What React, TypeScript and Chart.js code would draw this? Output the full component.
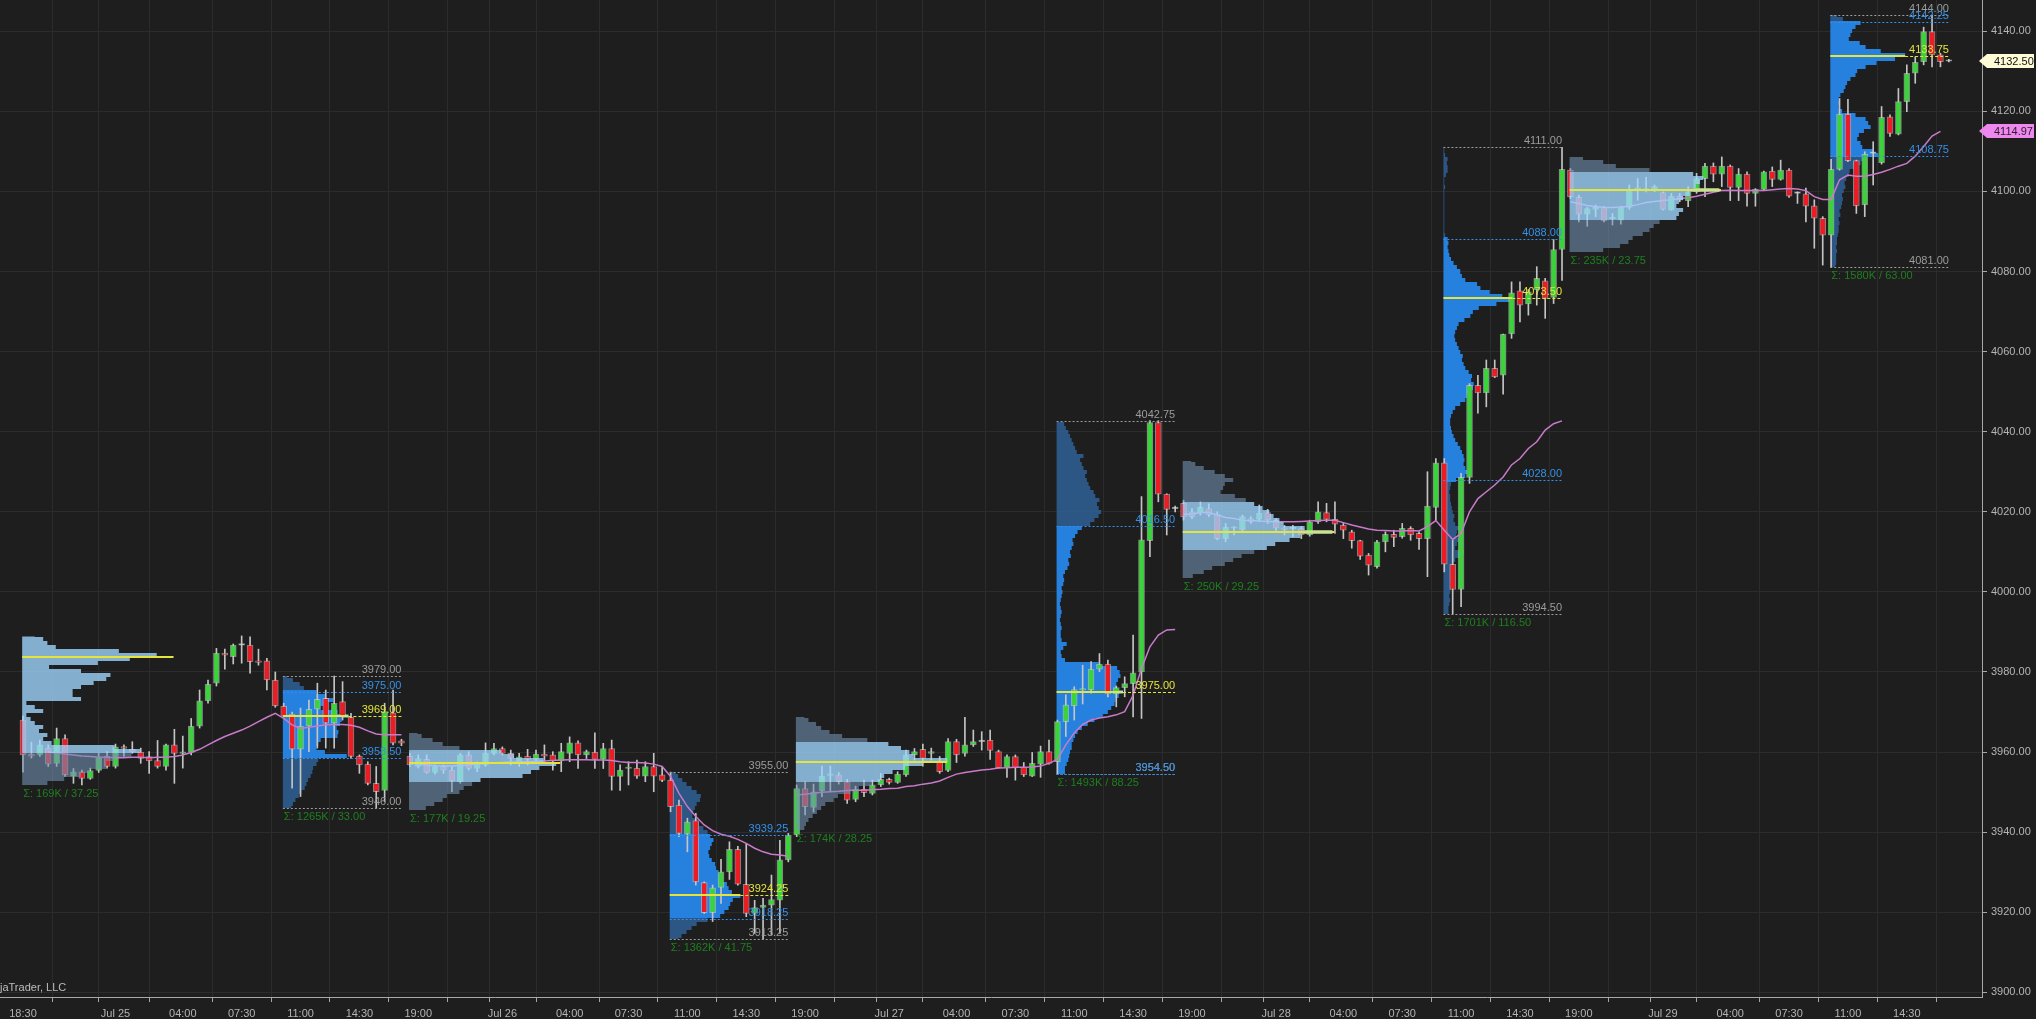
import { useEffect, useRef } from 'react';
import { Chart, registerables } from 'chart.js';

Chart.register(...registerables);

// ---------- candle data (30-minute bars, ES futures) ----------
const opens = [
  3968, 3959.5, 3959.3, 3961, 3957.2, 3963.4, 3954, 3955.1, 3953.4, 3955.4,
  3959, 3956.4, 3961.4, 3960.7, 3960, 3958.9, 3957.9, 3956.4, 3961.8, 3959.7,
  3959.9, 3966.5, 3972.8, 3977.2, 3984.7, 3983.8, 3986.7, 3986.7, 3982.7, 3982.8,
  3978, 3971.5, 3969.5, 3960.7, 3966.5, 3970.7, 3973.4, 3967.2, 3972.6, 3968.7,
  3959, 3957, 3952.2, 3950.4, 3969.8, 3962.8, 3959, 3956.4, 3958.2, 3954.9,
  3956.4, 3955.5, 3952.6, 3959.3, 3955.9, 3956.8, 3959.7, 3960.9, 3959.7, 3957.3,
  3959, 3958.2, 3959.5, 3959.3, 3957.8, 3959.7, 3962.3, 3959.3, 3960, 3958.2,
  3960.9, 3953.9, 3955.9, 3956, 3954, 3956.4, 3954.3, 3953, 3946.8, 3939.5,
  3942.9, 3927.4, 3919.9, 3926.2, 3930.1, 3935.7, 3927, 3919.7, 3921.2, 3921.8,
  3923, 3933.1, 3939.3, 3950.9, 3946.2, 3950.3, 3954.2, 3954.3, 3952.6, 3948.2,
  3950.7, 3949.7, 3951.8, 3953.2, 3952.4, 3954.3, 3959.3, 3960.7, 3959.7, 3957.6,
  3955.4, 3962.6, 3959.7, 3961.8, 3962.6, 3963, 3960.1, 3956.1, 3958.9, 3956.2,
  3954, 3957, 3960.1, 3957.6, 3967.6, 3971.5, 3975.5, 3975.5, 3980.7, 3982,
  3974.5, 3976.1, 3977.1, 3980, 4012.8, 4042.3, 4024.4, 4020.8, 4022.1, 4020,
  4019.8, 4020.8, 4019.4, 4013.3, 4015.9, 4015.5, 4018.3, 4018.1, 4019.8, 4017.9,
  4016, 4015.8, 4015.8, 4014.2, 4017.5, 4019.8, 4018.1, 4016.7, 4015, 4012.8,
  4009.2, 4006.3, 4012.5, 4014.4, 4013.8, 4015.9, 4014.6, 4013.3, 4021.1, 4032.2,
  4006.9, 4000.6, 4028.6, 4051.6, 4049.7, 4055.8, 4054.1, 4064.4, 4075.2, 4071.9,
  4075.4, 4077.7, 4073.5, 4085.5, 4105.3, 4098.5, 4094.3, 4095.5, 4096, 4093.1,
  4092.8, 4096, 4100.5, 4100.3, 4100.3, 4099.7, 4095.3, 4098.8, 4097.6, 4099.9,
  4103.2, 4106.3, 4104.3, 4106.3, 4101, 4104.3, 4099.5, 4100.5, 4105.1, 4103,
  4105.3, 4099.5, 4099.4, 4096.4, 4093.3, 4089.1, 4105.5, 4119.3, 4107.7, 4096.6,
  4109.5, 4107.2, 4118.6, 4114.3, 4122.4, 4129.5, 4132.4, 4139.9, 4134.1, 4132.5,
];
const highs = [
  3969, 3962.5, 3963, 3961.8, 3966, 3964.3, 3955.9, 3955.5, 3956, 3959.7,
  3960.1, 3962, 3961.8, 3962.6, 3961, 3960.1, 3962.9, 3962, 3965.7, 3964,
  3968.4, 3975.5, 3978, 3985.9, 3985.7, 3987, 3989, 3988.8, 3985.7, 3983.4,
  3980, 3972.2, 3970, 3971, 3973, 3977.2, 3975.5, 3979, 3977.6, 3969.7,
  3959.3, 3957.6, 3956.4, 3972.2, 3975.5, 3963.2, 3959.7, 3959.3, 3959.3, 3956.8,
  3956.8, 3956.4, 3959.7, 3960.1, 3957.6, 3962.3, 3962.2, 3961.3, 3960.5, 3959.7,
  3960.7, 3960.5, 3961.8, 3960.1, 3962.2, 3963.8, 3962.8, 3960.5, 3964.8, 3962.2,
  3963, 3956.8, 3957.6, 3958, 3957.6, 3959.7, 3956.4, 3955, 3948, 3943.5,
  3944.7, 3927.6, 3926.8, 3933.2, 3937.6, 3936.5, 3937.2, 3923, 3923.5, 3929.3,
  3938, 3939.7, 3951.8, 3952.6, 3952, 3956.5, 3956.5, 3954.9, 3953.2, 3951.5,
  3953, 3953, 3954.7, 3953.5, 3955.1, 3960.5, 3960.9, 3962, 3961, 3958.9,
  3963.4, 3963.2, 3968.7, 3965.5, 3965.1, 3965.5, 3960.5, 3959.3, 3959.3, 3957.4,
  3959.9, 3961.5, 3963, 3968, 3974.3, 3976.3, 3981.7, 3982.6, 3984.6, 3983,
  3976.5, 3978.8, 3989.2, 4023.8, 4042.75, 4042.75, 4024.5, 4021.4, 4022.9, 4020.8,
  4022.5, 4022, 4020, 4017.1, 4016.3, 4019.2, 4018.8, 4021.7, 4020.6, 4018.3,
  4016.6, 4016.6, 4016.3, 4017.9, 4022.5, 4022.1, 4022.5, 4017.1, 4015.4, 4012.9,
  4009.6, 4012.9, 4015, 4015.4, 4017.1, 4016.3, 4015, 4030, 4033.3, 4033.3,
  4013, 4029.6, 4052, 4054.1, 4057.9, 4057.9, 4064.4, 4077.4, 4077.4, 4075.5,
  4081.2, 4078.3, 4088, 4111, 4105.7, 4099.1, 4096, 4096.6, 4096.3, 4094.5,
  4096.3, 4101.6, 4103.2, 4103.5, 4101.6, 4099.9, 4099.5, 4099.5, 4101.2, 4104.5,
  4107, 4107.1, 4108.6, 4106.6, 4105.7, 4104.9, 4100.7, 4105.1, 4106.1, 4107.8,
  4105.7, 4099.9, 4100.8, 4097.9, 4093.7, 4108, 4123.2, 4123, 4107.8, 4109.9,
  4112.4, 4121.2, 4119.1, 4125.7, 4131.6, 4133.6, 4141, 4144, 4134.5, 4133,
];
const lows = [
  3955, 3958.5, 3958.9, 3956.4, 3956.4, 3953.9, 3952.2, 3951.8, 3953.2, 3954.9,
  3956, 3956, 3958.9, 3959.7, 3957.2, 3954.7, 3956, 3955.5, 3952.2, 3956,
  3959.3, 3966, 3972.2, 3976.5, 3980.7, 3982, 3982.2, 3979.7, 3981.7, 3975.5,
  3971.2, 3968.9, 3951, 3948.9, 3960.1, 3961, 3961, 3961, 3968, 3958.4,
  3954.7, 3951.8, 3946, 3947.6, 3961.8, 3961.6, 3956.4, 3956, 3954.7, 3954.5,
  3954.7, 3950.1, 3952.2, 3955.5, 3955.1, 3956.4, 3959.3, 3959.3, 3956.8, 3956.4,
  3956.8, 3957.2, 3957.2, 3955.5, 3955.1, 3957.6, 3955.9, 3958.4, 3955.9, 3955.9,
  3950.5, 3950.4, 3951.8, 3953.4, 3952.6, 3950.1, 3952.6, 3945.1, 3938.9, 3935.1,
  3926.8, 3919.7, 3917.7, 3922.2, 3928.2, 3926.8, 3918.9, 3914.7, 3913.25, 3914.3,
  3914.7, 3932.6, 3938.9, 3944.3, 3945, 3948.9, 3950.1, 3952, 3947.2, 3947.6,
  3948.9, 3949.3, 3951.4, 3952, 3952.2, 3953.9, 3958, 3956.5, 3958, 3954.7,
  3955.1, 3957.4, 3959, 3961.4, 3960.5, 3958.2, 3956, 3953.7, 3953, 3953.9,
  3953.9, 3953.7, 3957, 3954.5, 3963.9, 3968, 3972, 3974.7, 3980.1, 3973.8,
  3971.3, 3973.8, 3968.8, 3968.4, 4008.8, 4022.5, 4014.2, 4020, 4017.9, 4018.3,
  4019.2, 4018.8, 4013, 4012.5, 4014.2, 4015, 4017.1, 4017.5, 4017.1, 4015.3,
  4014.2, 4013.8, 4013.3, 4013.9, 4017.1, 4017.5, 4014.6, 4013.3, 4010.9, 4008.1,
  4004.2, 4005.9, 4010, 4011.3, 4013.4, 4012.9, 4010.6, 4003.8, 4017.9, 4005,
  3994.5, 3996.3, 4027.1, 4044.6, 4046.2, 4053.5, 4049.4, 4063.3, 4067.4, 4069.1,
  4071.6, 4068.3, 4072, 4077.8, 4098.2, 4092.4, 4091.3, 4093.7, 4092.4, 4091.6,
  4091.8, 4095.5, 4097.8, 4099.9, 4099.9, 4095.3, 4095.3, 4097.4, 4096.2, 4099.5,
  4098.7, 4102.4, 4101.2, 4097.7, 4097.7, 4096.3, 4096.3, 4100.3, 4101.2, 4102.8,
  4098.5, 4097, 4092.4, 4085.8, 4081.6, 4081, 4105.3, 4107.4, 4094.5, 4093.7,
  4101.6, 4106.8, 4113.7, 4114.1, 4119.9, 4127, 4131.6, 4131.1, 4131.1, 4132.3,
];
const closes = [
  3959.3, 3959, 3961.8, 3957, 3963.4, 3954.3, 3955.1, 3953.4, 3955.4, 3958.6,
  3956.4, 3961.3, 3960.9, 3960, 3958.4, 3957.8, 3956.4, 3961.8, 3959.7, 3960,
  3966.5, 3972.8, 3976.9, 3984.7, 3984.2, 3986.7, 3986.7, 3982.6, 3982.4, 3978,
  3971.5, 3969, 3960.7, 3966.5, 3970.7, 3973.2, 3967.2, 3972.2, 3968.8, 3958.9,
  3956.8, 3952.2, 3950.1, 3970.1, 3962.2, 3962.2, 3956.8, 3958.4, 3954.9, 3956.4,
  3955.5, 3952.8, 3959.3, 3955.9, 3957.2, 3959.7, 3960.9, 3959.7, 3958.4, 3958.8,
  3958.2, 3959.5, 3959, 3957.8, 3960.1, 3962.3, 3959.3, 3960.1, 3958.2, 3960.9,
  3953.9, 3955.5, 3956.2, 3954, 3956.4, 3954, 3952.9, 3946.4, 3939.7, 3942.6,
  3927.6, 3919.9, 3926.1, 3930.1, 3935.7, 3927, 3919.7, 3921.2, 3921.8, 3923.2,
  3933.1, 3939.3, 3950.9, 3946.4, 3950.1, 3954, 3954.5, 3952.6, 3948, 3950.7,
  3949.9, 3951.8, 3953.2, 3952.4, 3954.5, 3959.3, 3960.1, 3958.4, 3960.1, 3955.1,
  3962.6, 3959.3, 3961.8, 3962.6, 3962.6, 3960.4, 3956.1, 3958.9, 3956.1, 3954.3,
  3957.2, 3960.1, 3957.2, 3967.6, 3971.8, 3975.6, 3975.8, 3980.7, 3982, 3974.5,
  3976.1, 3977.1, 3979.8, 4013, 4042.3, 4024.4, 4020.6, 4020.8, 4018.7, 4018.8,
  4021.1, 4019.2, 4013.3, 4016.1, 4016.1, 4018.8, 4017.5, 4019.6, 4017.9, 4015.9,
  4015.6, 4015.8, 4014.2, 4017.5, 4020, 4018.1, 4016.9, 4015.4, 4012.8, 4008.9,
  4006.7, 4012.5, 4014.4, 4013.6, 4015.9, 4014.2, 4013.3, 4021.4, 4032.2, 4006.9,
  4000.6, 4028.6, 4051.6, 4049.7, 4055.8, 4053.7, 4064.4, 4074.7, 4071.6, 4074.9,
  4078.3, 4073.3, 4085.5, 4105.5, 4098.7, 4094.3, 4095.7, 4096, 4092.7, 4093.5,
  4096, 4100.5, 4100.8, 4100.5, 4101.2, 4095.5, 4098.8, 4097.8, 4099.9, 4103.2,
  4106.3, 4104.3, 4106.3, 4101, 4104.3, 4099.5, 4100.5, 4104.9, 4103, 4105.3,
  4098.8, 4099.5, 4096.3, 4093.3, 4089.1, 4105.5, 4119.3, 4107.7, 4096.4, 4109.3,
  4109.5, 4118.5, 4114.5, 4122.4, 4129.5, 4132.2, 4139.9, 4134.1, 4132.4, 4132.5,
];
// session VWAP (pink line)
const vwap = [
  null, null, null, 3960, 3959.8, 3959.5, 3959.3, 3959, 3958.9, 3958.7,
  3958.7, 3958.6, 3958.6, 3958.7, 3958.7, 3958.6, 3958.7, 3958.7, 3958.9, 3959.3,
  3959.9, 3960.7, 3961.8, 3962.9, 3963.9, 3964.7, 3965.5, 3966.5, 3967.6, 3968.7,
  3969.7, 3968.4, 3966.8, 3965.9, 3966.2, 3966.5, 3966.8, 3966.9, 3966.9, 3966.7,
  3966.2, 3965.3, 3964.5, 3964.3, 3964.3, 3964.3, 3957.2, 3957, 3956.8, 3956.6,
  3956.5, 3956.5, 3956.7, 3956.8, 3957, 3957.2, 3957.3, 3957.4, 3957.5, 3957.5,
  3957.6, 3957.7, 3957.8, 3957.9, 3958, 3958.1, 3958.1, 3958.1, 3958, 3958,
  3957.9, 3957.6, 3957.4, 3957.4, 3957.3, 3957, 3956.4, 3953.9, 3949.7, 3946.4,
  3943.9, 3941.8, 3940.4, 3939.5, 3939, 3938.2, 3937.2, 3936, 3935.1, 3934.5,
  3934.3, 3934, 3949.3, 3949.5, 3949.7, 3950, 3950.1, 3950.2, 3950.4, 3950.5,
  3950.5, 3950.6, 3950.7, 3950.9, 3951, 3951.4, 3951.6, 3952, 3952.3, 3952.8,
  3953.7, 3954.5, 3954.9, 3955.2, 3955.5, 3955.7, 3956, 3956.1, 3956.2, 3956.2,
  3956.3, 3956.5, 3957.2, 3958.2, 3961.8, 3964.8, 3966.9, 3968, 3968.5, 3968.8,
  3969.3, 3970.1, 3974.2, 3980.9, 3986.3, 3989.2, 3990.5, 3990.6, 4019.4, 4019.4,
  4019.8, 4019.9, 4019.2, 4018.6, 4018.3, 4017.9, 4017.8, 4017.7, 4017.6, 4017.5,
  4017.5, 4017.5, 4017.6, 4017.7, 4017.8, 4017.9, 4017.9, 4017.3, 4016.7, 4016.2,
  4015.7, 4015.4, 4015.3, 4015.2, 4015.2, 4015.3, 4015.2, 4016.3, 4017.8, 4015.4,
  4013.1, 4014.6, 4020, 4023.3, 4025, 4026.7, 4028.7, 4031.7, 4033.3, 4035.8,
  4037.5, 4040.4, 4042, 4042.7, 4097.4, 4097, 4096.5, 4096.2, 4096, 4096,
  4096.1, 4096.3, 4096.7, 4097.2, 4097.5, 4097.7, 4097.9, 4098.2, 4098.4, 4098.8,
  4099.3, 4099.8, 4100.2, 4100.3, 4100.2, 4100.2, 4100.2, 4100.2, 4100.4, 4100.6,
  4100.7, 4100.6, 4100.2, 4098.7, 4098, 4098, 4102.9, 4104.1, 4103.8, 4103.8,
  4104.2, 4104.8, 4105.5, 4106.3, 4107, 4108.8, 4111.2, 4113.8, 4114.97, null,
];

// ---------- axis ticks ----------
const tickIndex = [0, 7, 11, 19, 26, 33, 40, 47, 54, 57, 65, 72, 79, 86, 93, 100, 103, 111, 118, 125, 132, 139, 146, 149, 157, 164, 171, 178, 185, 192, 195, 203, 210, 217, 224];
const tickLabels = ['18:30', '', 'Jul 25', '04:00', '07:30', '11:00', '14:30', '19:00', '', 'Jul 26', '04:00', '07:30', '11:00', '14:30', '19:00', '', 'Jul 27', '04:00', '07:30', '11:00', '14:30', '19:00', '', 'Jul 28', '04:00', '07:30', '11:00', '14:30', '19:00', '', 'Jul 29', '04:00', '07:30', '11:00', '14:30'];
const yTicks = [3900, 3920, 3940, 3960, 3980, 4000, 4020, 4040, 4060, 4080, 4100, 4120, 4140];

// ---------- volume profiles (relative volume per 1-point row, bottom to top) ----------
const eth1Vols = [3, 5, 7, 8, 10, 10, 11, 13, 14, 11, 3.5, 2.5, 3, 2, 2.5, 1.5, 1, 0.5, 2.5, 1.5, 0.5, 7, 6, 6, 7, 8.5, 10, 10.5, 7, 3.2, 9, 12.8, 16, 11.5, 4, 3, 2.5, 1.5];
const rth25Vols = [1, 1.2, 1.5, 1.9, 2.2, 2.6, 2.8, 3, 3.3, 3.5, 3.6, 4, 4.2, 7.6, 5, 4, 4.2, 4.5, 6.5, 6.6, 6.4, 6.8, 7, 7.8, 6.5, 4.5, 5, 6, 5, 4, 2.5, 2, 1.2, 0.5];
const eth2Vols = [2, 3, 4, 4.5, 6, 6.5, 7.5, 8.5, 13.5, 14.5, 15.5, 17.5, 16, 12.5, 11, 6, 4, 2.8, 1.5, 1];
const rth26Vols = [1, 1.4, 2, 2.6, 3.2, 4.5, 6, 6.5, 7, 7.2, 7.5, 8.4, 7.4, 7, 6.8, 6.2, 6, 5.8, 5.5, 5.4, 5, 4.7, 4.6, 4.8, 5, 5.2, 4.8, 4.5, 4, 3.5, 3, 2.7, 2.8, 3, 3.2, 3.6, 3.7, 3.2, 2.6, 2, 1.5, 1, 0.7];
const eth3Vols = [1, 1.2, 1.5, 2, 2.5, 3, 3.5, 4.5, 5, 6.5, 7.5, 9, 10, 10.5, 11.5, 13, 15, 18, 14, 13.5, 12.5, 11, 8.5, 5.5, 4, 3, 2.4, 1.5, 1];
const rth27Vols = [
  1, 1, 1.2, 1.4, 1.5, 1.6, 1.8, 1.8, 2, 2.2,
  2.5, 3, 3.7, 4.5, 5.5, 6.1, 6.5, 6.9, 7, 7.4,
  7.9, 7.2, 7.1, 7.3, 7.6, 7.5, 7.2, 5, 1, 0.6,
  0.5, 0.8, 1.2, 0.6, 0.5, 0.5, 0.6, 0.5, 0.4, 0.5,
  0.6, 0.5, 0.4, 0.5, 0.6, 0.7, 0.6, 0.8, 0.9, 0.8,
  1, 1.3, 1.5, 1.4, 1.7, 1.6, 1.8, 2, 1.9, 2.2,
  2.5, 3, 4, 4.5, 5, 5.3, 5, 4.8, 5.1, 4.6,
  4.4, 4, 3.8, 3.6, 3.4, 3.6, 3.2, 3, 2.8, 3.2,
  2.4, 2.2, 2, 1.8, 1.6, 1.4, 1.1, 0.9,
];
const eth4Vols = [1.2, 2.5, 3.5, 5, 6, 7, 8.5, 10, 11, 12.7, 14, 17.8, 14.5, 12, 11.5, 10.8, 10.3, 9.5, 8.5, 7.5, 6.2, 4.5, 4.8, 5, 6, 5, 3.8, 2.5, 1.5, 1];
const rth28Vols = [
  0.6, 0.6, 0.7, 0.8, 0.7, 0.8, 0.9, 0.8, 0.9, 1,
  0.9, 1, 1.2, 1.4, 2.2, 2.4, 1.4, 1.6, 1.8, 1.5,
  1.6, 1.8, 1.4, 1.2, 1.3, 1.1, 1, 0.9, 0.8, 0.8,
  0.7, 0.8, 0.9, 1.5, 2.6, 2.8, 2.6, 2.4, 2.5, 2.4,
  2.2, 2, 1.7, 1.4, 1.2, 1, 0.9, 0.8, 0.8, 0.9,
  1.1, 1.4, 2, 2.6, 2.8, 3.2, 3.5, 3.6, 3.3, 3.4,
  3, 2.6, 2.4, 2.2, 2.3, 2, 1.8, 1.6, 1.4, 1.3,
  1.4, 1.6, 1.8, 2.5, 3.2, 3.5, 4.2, 6.3, 8.2, 7,
  5.5, 4.4, 4, 2.6, 2.2, 2, 1.6, 1.2, 0.9, 0.7,
  0.6, 0.5, 0.6, 0.5, 0.2, 0.1, 0.1, 0.1, 0.1, 0.1,
  0.1, 0.1, 0.1, 0.1, 0.1, 0.1, 0.2, 0.1, 0.1, 0.3,
  0.5, 0.5, 0.4, 0.5, 0.2, 0.1, 0.1,
];
const eth5Vols = [4, 6, 7, 7.5, 8.7, 9.5, 10, 10.7, 12.7, 13, 13.5, 12.7, 13, 13.5, 14.3, 17.8, 15, 15.5, 15.9, 14.7, 9.5, 5.5, 4, 1.6];
const rth29Vols = [
  0.6, 0.7, 0.7, 0.7, 0.8, 0.7, 0.8, 0.8, 0.9, 1,
  1, 1.1, 1, 1.2, 1.1, 1.3, 1.4, 1.5, 1.4, 1.6,
  1.8, 1.7, 1.9, 2.2, 2.3, 2.8, 3.6, 4.2, 5.7, 5.2,
  3.8, 3.6, 3.2, 3.4, 4, 4.8, 4.5, 4.2, 3, 1.4,
  1, 1.1, 1, 1.2, 1.6, 1.8, 2, 2.4, 3, 3.2,
  4.2, 5.5, 7.7, 8.9, 6, 4.2, 3.5, 2.2, 2.4, 2.6,
  3, 3.6, 1.5, 0.8,
];

const profileKinds = ['eth', 'rth', 'eth', 'rth', 'eth', 'rth', 'eth', 'rth', 'eth', 'rth'];
const profileStarts = [0, 31, 46, 77, 92, 123, 138, 169, 184, 215];
const profileEnds = [30, 45, 76, 91, 122, 137, 168, 183, 214, 229];
const profileLows = [3951.75, 3946, 3945.5, 3913.25, 3940.5, 3954.5, 4003.5, 3994.5, 4084.75, 4081];
const profileHighs = [3989, 3979, 3964.75, 3955, 3968.75, 4042.75, 4032.75, 4111, 4108.5, 4144];
const profileRowBase = [3951.75, 3945.5, 3945.5, 3912.5, 3940.5, 3954.5, 4003.5, 3994.5, 4084.75, 4080.5];
const profileVAL = [3960, 3958.5, 3952.5, 3918.25, 3953, 3954.5, 4010.5, 4028, 4093, 4108.75];
const profileVAH = [3989, 3975, 3960.5, 3939.25, 3962.5, 4016.5, 4022, 4088, 4105, 4142.25];
const profilePOC = [3983.75, 3969, 3957.25, 3924.25, 3957.5, 3975, 4015, 4073.5, 4100.25, 4133.75];
const profileVolumeK = [169, 1265, 177, 1362, 174, 1493, 250, 1701, 235, 1580];
const profileVols = [eth1Vols, rth25Vols, eth2Vols, rth26Vols, eth3Vols, rth27Vols, eth4Vols, rth28Vols, eth5Vols, rth29Vols];

const profiles = profileKinds.map((kind, n) => ({
  kind,
  start: profileStarts[n],
  end: profileEnds[n],
  low: profileLows[n],
  high: profileHighs[n],
  rowBase: profileRowBase[n],
  val: profileVAL[n],
  vah: profileVAH[n],
  poc: profilePOC[n],
  volK: profileVolumeK[n],
  vols: profileVols[n],
}));
const sessionStarts = profiles.filter((p) => p.kind === 'eth').map((p) => p.start);

// ---------- styles ----------
const FONT_FAMILY = "'Liberation Sans', Arial, sans-serif";
const AXIS_FONT_FAMILY = "'Liberation Sans Narrow', 'Arial Narrow', 'Liberation Sans', Arial, sans-serif";
const BG = '#1e1e1e';
const GRID = '#2c2c2c';
const AXIS = '#a8a8a8';
const TEXT = '#b4b4b4';
const UP = '#3cd23c';
const DOWN = '#ec1c24';
const DOJI = '#d8d8d8';
const WICK = '#c4c4c4';
const PINK = '#c97ac9';
const RTH_VA = 'rgb(38,128,222)';
const RTH_OUT = 'rgba(48,100,158,0.8)';
const ETH_VA = 'rgba(160,215,255,0.78)';
const ETH_OUT = 'rgba(115,148,182,0.58)';
const YELLOW = '#e4e43a';
const GRAYLBL = '#9c9c9c';
const BLUELBL = '#3590e8';
const GREENLBL = '#1f7f1f';
const PROFILE_SHIFT = 0.1;
const ETH_POC_BARS = 18;

function hline(ctx: CanvasRenderingContext2D, x1: number, x2: number, yy: number, color: string, dash: number[], width: number) {
  ctx.save();
  ctx.strokeStyle = color;
  ctx.lineWidth = width;
  ctx.setLineDash(dash);
  ctx.beginPath();
  const py = Math.round(yy) + (width % 2 === 1 ? 0.5 : 0);
  ctx.moveTo(x1, py);
  ctx.lineTo(x2, py);
  ctx.stroke();
  ctx.restore();
}

function clipArea(chart: any) {
  const { ctx, chartArea: a } = chart;
  ctx.beginPath();
  ctx.rect(a.left, a.top, a.right - a.left, a.bottom - a.top);
  ctx.clip();
}

function drawHistograms(chart: any, kind: string) {
  const { ctx, scales } = chart;
  const x = scales.x;
  const y = scales.y;
  ctx.save();
  clipArea(chart);
  for (const p of profiles) {
    if (p.kind !== kind) continue;
    const x0 = x.getPixelForValue(p.start - PROFILE_SHIFT);
    p.vols.forEach((v: number, k: number) => {
      const lo = Math.max(p.low, p.rowBase + k);
      const hi = Math.min(p.high, p.rowBase + k + 1);
      if (hi <= lo) return;
      const c = p.rowBase + k + 0.5;
      const inVA = c >= p.val && c <= p.vah;
      const yt = Math.round(y.getPixelForValue(hi));
      const yb = Math.round(y.getPixelForValue(lo));
      const w = x.getPixelForValue(p.start - PROFILE_SHIFT + v) - x0;
      ctx.fillStyle = kind === 'rth' ? (inVA ? RTH_VA : RTH_OUT) : inVA ? ETH_VA : ETH_OUT;
      ctx.fillRect(x0, yt, w, Math.max(1, yb - yt));
    });
  }
  ctx.restore();
}

function drawProfileLines(chart: any) {
  const { ctx, scales } = chart;
  const x = scales.x;
  const y = scales.y;
  ctx.save();
  clipArea(chart);
  ctx.font = `11px ${FONT_FAMILY}`;
  for (const p of profiles) {
    const x0 = x.getPixelForValue(p.start - PROFILE_SHIFT);
    const maxV = Math.max(...p.vols);
    if (p.kind === 'rth') {
      const xr = x.getPixelForValue(p.end);
      const levels: [number, string][] = [
        [p.low, GRAYLBL],
        [p.val, BLUELBL],
        [p.high, GRAYLBL],
        [p.vah, BLUELBL],
      ];
      for (const [lv, col] of levels) {
        const py = y.getPixelForValue(lv);
        hline(ctx, x0, xr, py, col, [2, 2], 1);
        ctx.fillStyle = col;
        ctx.textAlign = 'right';
        ctx.textBaseline = 'bottom';
        ctx.fillText(lv.toFixed(2), xr, Math.round(py) - 1);
      }
      const pp = y.getPixelForValue(p.poc);
      const xm = x.getPixelForValue(p.start - PROFILE_SHIFT + maxV);
      hline(ctx, x0, xm, pp, YELLOW, [], 2);
      hline(ctx, xm, xr, pp, YELLOW, [3, 2], 1);
      ctx.fillStyle = YELLOW;
      ctx.textAlign = 'right';
      ctx.textBaseline = 'bottom';
      ctx.fillText(p.poc.toFixed(2), xr, Math.round(pp) - 1);
    } else {
      const pp = y.getPixelForValue(p.poc);
      const xe = x.getPixelForValue(p.start - PROFILE_SHIFT + ETH_POC_BARS);
      hline(ctx, x0, xe, pp, YELLOW, [], 2);
    }
    ctx.fillStyle = GREENLBL;
    ctx.textAlign = 'left';
    ctx.textBaseline = 'top';
    ctx.fillText(`Σ: ${p.volK}K / ${(p.high - p.low).toFixed(2)}`, x0 + 1, Math.round(y.getPixelForValue(p.low)) + 3);
  }
  ctx.restore();
}

function drawBadge(chart: any, value: number, text: string, bg: string, fg: string) {
  const { ctx, chartArea: a, scales } = chart;
  const yy = Math.round(scales.y.getPixelForValue(value));
  const xl = a.right - 3;
  const h = 14;
  ctx.save();
  ctx.fillStyle = bg;
  ctx.beginPath();
  ctx.moveTo(xl, yy);
  ctx.lineTo(xl + 8, yy - h / 2);
  ctx.lineTo(a.right + 52, yy - h / 2);
  ctx.lineTo(a.right + 52, yy + h / 2);
  ctx.lineTo(xl + 8, yy + h / 2);
  ctx.closePath();
  ctx.fill();
  ctx.fillStyle = fg;
  ctx.font = `11px ${FONT_FAMILY}`;
  ctx.textAlign = 'left';
  ctx.textBaseline = 'middle';
  ctx.fillText(text, a.right + 12, yy + 0.5);
  ctx.restore();
}

const profilePlugin = {
  id: 'volumeProfiles',
  beforeDatasetsDraw(chart: any) {
    drawHistograms(chart, 'rth');
  },
  afterDatasetsDraw(chart: any) {
    drawHistograms(chart, 'eth');
    drawProfileLines(chart);
  },
  afterDraw(chart: any) {
    const { ctx, chartArea: a } = chart;
    const lastClose = closes[closes.length - 1];
    const vw = vwap.filter((v) => v !== null) as number[];
    const lastVwap = vw[vw.length - 1];
    drawBadge(chart, lastVwap, lastVwap.toFixed(2), '#ee88ee', '#2a1a2a');
    drawBadge(chart, lastClose, lastClose.toFixed(2), '#fffbd6', '#111111');
    ctx.save();
    ctx.font = `11px ${FONT_FAMILY}`;
    ctx.fillStyle = '#bdbdbd';
    ctx.textAlign = 'left';
    ctx.textBaseline = 'bottom';
    ctx.fillText('jaTrader, LLC', a.left, a.bottom - 4);
    ctx.restore();
  },
};

export default function App() {
  const canvasRef = useRef<HTMLCanvasElement | null>(null);

  useEffect(() => {
    if (!canvasRef.current) return;
    const bodyColor = (i: number) => (closes[i] > opens[i] ? UP : closes[i] < opens[i] ? DOWN : DOJI);
    const chart = new Chart(canvasRef.current, {
      type: 'bar',
      data: {
        datasets: [
          {
            type: 'line',
            data: vwap.map((v, i) => ({ x: i, y: v })),
            borderColor: PINK,
            borderWidth: 1.5,
            pointRadius: 0,
            tension: 0,
            spanGaps: false,
            segment: {
              borderColor: (c: any) => (sessionStarts.includes(c.p1DataIndex) ? 'rgba(0,0,0,0)' : PINK),
            },
          } as any,
          {
            type: 'bar',
            data: opens.map((o, i) => ({ x: i, y: [o, closes[i]] })),
            backgroundColor: (c: any) => bodyColor(c.dataIndex),
            borderColor: 'rgba(215,215,215,0.55)',
            borderWidth: 1,
            borderSkipped: false,
            barThickness: 6,
            minBarLength: 1.5,
            grouped: false,
          } as any,
          {
            type: 'bar',
            data: lows.map((l, i) => ({ x: i, y: [l, highs[i]] })),
            backgroundColor: WICK,
            borderWidth: 0,
            barThickness: 1,
            grouped: false,
          } as any,
        ],
      },
      options: {
        animation: false,
        responsive: true,
        maintainAspectRatio: false,
        layout: { padding: 0 },
        plugins: { legend: { display: false }, tooltip: { enabled: false } },
        scales: {
          x: {
            type: 'linear',
            position: 'bottom',
            min: -2.735,
            max: 232.94,
            offset: false,
            grid: { color: GRID, tickColor: AXIS, tickLength: 5, drawTicks: true },
            border: { color: AXIS, width: 1 },
            ticks: {
              color: TEXT,
              font: { family: AXIS_FONT_FAMILY, size: 11 },
              autoSkip: false,
              maxRotation: 0,
              padding: 5,
              callback: (_v: any, index: number) => tickLabels[index],
            },
            afterBuildTicks: (s: any) => {
              s.ticks = tickIndex.map((v) => ({ value: v }));
            },
            afterFit: (s: any) => {
              s.height = 22;
              s.paddingLeft = 0;
              s.paddingRight = 0;
            },
          },
          y: {
            type: 'linear',
            position: 'right',
            min: 3898.85,
            max: 4147.79,
            grid: { color: GRID, tickColor: AXIS, tickLength: 5, drawTicks: true },
            border: { color: AXIS, width: 1 },
            ticks: {
              color: TEXT,
              font: { family: FONT_FAMILY, size: 11 },
              padding: 4,
              callback: (v: any) => Number(v).toFixed(2),
            },
            afterBuildTicks: (s: any) => {
              s.ticks = yTicks.map((v) => ({ value: v }));
            },
            afterFit: (s: any) => {
              s.width = 54;
              s.paddingTop = 0;
              s.paddingBottom = 0;
            },
          },
        },
      } as any,
      plugins: [profilePlugin],
    });
    return () => chart.destroy();
  }, []);

  return (
    <div style={{ position: 'fixed', left: 0, top: 0, width: '100vw', height: '100vh', background: BG }}>
      <canvas ref={canvasRef} />
    </div>
  );
}
